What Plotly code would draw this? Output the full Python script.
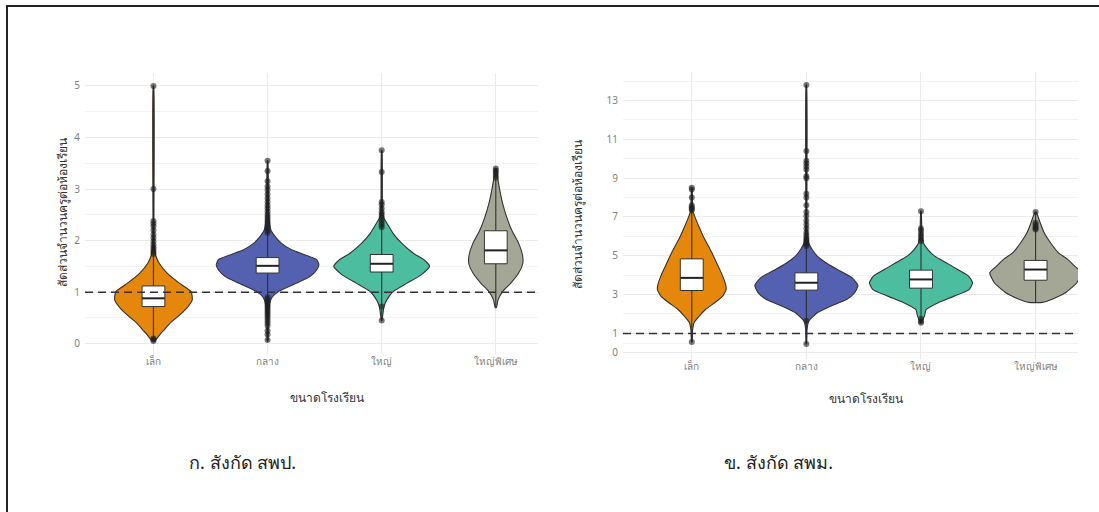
import plotly.graph_objects as go

W, H = 1099, 512

# ---------------- data ----------------
categories = ["เล็ก", "กลาง", "ใหญ่", "ใหญ่พิเศษ"]
cat_pos = [0, 1, 2, 3]
fill_colors = ["#E5870A", "#5461B0", "#4CBD9E", "#A4A795"]

y_title = "สัดส่วนจำนวนครูต่อห้องเรียน"
x_title = "ขนาดโรงเรียน"
caption_a = "ก. สังกัด สพป."
caption_b = "ข. สังกัด สพม."

# Panel A (สพป.)
a_q1 = [0.72, 1.37, 1.39, 1.55]
a_med = [0.88, 1.51, 1.55, 1.81]
a_q3 = [1.12, 1.67, 1.73, 2.19]
a_min = [0.05, 0.05, 0.45, 0.70]
a_max = [5.0, 3.55, 3.75, 3.40]

a_violin_y = [
    [0.05, 0.1, 0.2, 0.27, 0.4, 0.5, 0.66, 0.85, 1.01, 1.17, 1.37, 1.56, 1.71, 1.9, 2.4, 5.0],
    [0.05, 0.5, 0.79, 0.9, 1.01, 1.17, 1.3, 1.43, 1.53, 1.63, 1.72, 1.82, 1.95, 2.08, 2.2, 2.5, 3.55],
    [0.45, 0.72, 0.85, 1.01, 1.17, 1.34, 1.5, 1.63, 1.75, 1.95, 2.14, 2.34, 2.46, 2.8, 3.75],
    [0.70, 0.85, 1.01, 1.17, 1.37, 1.56, 1.72, 1.95, 2.2, 2.46, 2.72, 2.98, 3.24, 3.40],
]
a_violin_hw = [
    [0.005, 0.03, 0.065, 0.095, 0.146, 0.2, 0.28, 0.34, 0.33, 0.23, 0.12, 0.05, 0.02, 0.008, 0.004, 0.002],
    [0.003, 0.006, 0.02, 0.04, 0.095, 0.25, 0.37, 0.43, 0.45, 0.43, 0.33, 0.21, 0.12, 0.065, 0.03, 0.01, 0.002],
    [0.002, 0.02, 0.045, 0.1, 0.22, 0.35, 0.42, 0.37, 0.28, 0.175, 0.1, 0.045, 0.015, 0.006, 0.002],
    [0.005, 0.02, 0.06, 0.13, 0.2, 0.237, 0.234, 0.2, 0.14, 0.095, 0.06, 0.035, 0.015, 0.005],
]
a_outliers = [
    [5.0, 3.0, 2.38, 2.33, 2.28, 2.2, 2.12, 2.05, 1.98, 1.92, 1.87, 1.82, 1.78, 1.74, 0.05, 0.08, 0.1],
    [3.55, 3.35, 3.15, 3.05, 2.98, 2.9, 2.82, 2.75, 2.68, 2.62, 2.56, 2.5, 2.45, 2.4, 2.35, 2.3, 2.25, 2.2, 2.15,
     0.9, 0.86, 0.82, 0.78, 0.74, 0.7, 0.66, 0.62, 0.58, 0.54, 0.5, 0.45, 0.4, 0.35, 0.25, 0.18, 0.07],
    [3.75, 3.33, 2.75, 2.7, 2.62, 2.55, 2.5, 2.45, 2.4, 2.35, 2.3, 2.26, 0.72, 0.45],
    [3.4, 3.36, 3.32, 3.27, 3.22],
]

# Panel B (สพม.)
b_q1 = [3.21, 3.23, 3.33, 3.74]
b_med = [3.86, 3.61, 3.78, 4.29]
b_q3 = [4.84, 4.12, 4.26, 4.76]
b_min = [0.55, 0.45, 1.55, 2.6]
b_max = [8.5, 13.8, 7.3, 7.25]

b_violin_y = [
    [0.55, 1.2, 1.55, 1.89, 2.23, 2.58, 2.92, 3.26, 3.52, 3.95, 4.47, 4.98, 5.5, 6.01, 6.53, 7.04, 7.3, 8.5],
    [0.45, 1.2, 1.63, 2.06, 2.4, 2.75, 3.09, 3.47, 3.86, 4.29, 4.64, 4.98, 5.32, 5.67, 6.5, 13.8],
    [1.55, 1.63, 1.89, 2.23, 2.58, 2.92, 3.26, 3.61, 3.95, 4.29, 4.64, 4.98, 5.32, 5.67, 6.2, 7.3],
    [2.6, 2.75, 3.09, 3.61, 4.12, 4.47, 4.81, 5.15, 5.67, 6.18, 6.7, 7.04, 7.25],
]
b_violin_hw = [
    [0.002, 0.008, 0.02, 0.065, 0.12, 0.2, 0.27, 0.3, 0.295, 0.27, 0.23, 0.19, 0.145, 0.1, 0.06, 0.025, 0.01, 0.002],
    [0.002, 0.006, 0.02, 0.095, 0.21, 0.35, 0.42, 0.45, 0.4, 0.27, 0.17, 0.095, 0.05, 0.02, 0.006, 0.002],
    [0.005, 0.01, 0.03, 0.045, 0.15, 0.29, 0.42, 0.45, 0.415, 0.32, 0.22, 0.12, 0.06, 0.02, 0.008, 0.002],
    [0.06, 0.14, 0.26, 0.36, 0.4, 0.34, 0.28, 0.2, 0.13, 0.075, 0.04, 0.02, 0.005],
]
b_outliers = [
    [8.5, 8.42, 8.0, 7.6, 7.5, 7.42, 7.36, 0.55],
    [13.8, 10.4, 9.9, 9.75, 9.6, 9.45, 9.1, 9.0, 8.2, 8.0, 7.6, 7.25, 7.05, 6.8, 6.6, 6.4, 6.2, 6.05,
     5.9, 5.8, 5.7, 5.6, 5.5, 1.65, 0.45],
    [7.3, 6.4, 6.3, 6.15, 6.0, 5.85, 5.75, 1.75, 1.62, 1.55],
    [7.25, 6.7, 6.6, 6.5, 6.42, 6.35],
]

a_yticks = [0, 1, 2, 3, 4, 5]
a_yminor = [0.5, 1.5, 2.5, 3.5, 4.5]
b_yticks = [0, 1, 3, 5, 7, 9, 11, 13]
b_yminor = [0.5, 2, 4, 6, 8, 10, 12, 14]
ref_value = 1

# ---------------- figure ----------------
fig = go.Figure()
OUTLINE = "#333333"
BOX_HW = 0.1


def add_panel(xa, ya, q1, med, q3, vmin, vmax, vy, vhw, outl):
    xref = "x" if xa == 1 else "x2"
    yref = "y" if ya == 1 else "y2"
    common = dict(hoverinfo="skip", showlegend=False, xaxis=xref, yaxis=yref)
    for i, c in enumerate(cat_pos):
        ys = vy[i]
        hws = vhw[i]
        px = [c + h for h in hws] + [c - h for h in reversed(hws)]
        py = list(ys) + list(reversed(ys))
        px.append(px[0]); py.append(py[0])
        # violin
        fig.add_trace(go.Scatter(x=px, y=py, mode="lines", fill="toself",
                                 fillcolor=fill_colors[i],
                                 line=dict(color=OUTLINE, width=1.1, shape="spline", smoothing=0.5),
                                 **common))
        # range line (min to max)
        fig.add_trace(go.Scatter(x=[c, c], y=[vmin[i], vmax[i]], mode="lines",
                                 line=dict(color="rgba(40,40,40,0.85)", width=1.2), **common))
        # box (white)
        bx = [c - BOX_HW, c + BOX_HW, c + BOX_HW, c - BOX_HW, c - BOX_HW]
        by = [q1[i], q1[i], q3[i], q3[i], q1[i]]
        fig.add_trace(go.Scatter(x=bx, y=by, mode="lines", fill="toself", fillcolor="white",
                                 line=dict(color=OUTLINE, width=1), **common))
        # median line
        fig.add_trace(go.Scatter(x=[c - BOX_HW, c + BOX_HW], y=[med[i], med[i]],
                                 mode="lines", line=dict(color="#222222", width=2), **common))
        # outliers
        fig.add_trace(go.Scatter(x=[c] * len(outl[i]), y=outl[i], mode="markers",
                                 marker=dict(color="rgba(30,30,30,0.6)", size=6),
                                 cliponaxis=False, **common))
    # reference dashed line
    fig.add_shape(type="line", xref=f"{xref} domain", yref=yref, x0=0, x1=1,
                  y0=ref_value, y1=ref_value,
                  line=dict(color="#333333", width=1.5, dash="8px,5px"))


add_panel(1, 1, a_q1, a_med, a_q3, a_min, a_max, a_violin_y, a_violin_hw, a_outliers)
add_panel(2, 2, b_q1, b_med, b_q3, b_min, b_max, b_violin_y, b_violin_hw, b_outliers)

GRID = "#EBEBEB"
FONT = "Noto Sans, DejaVu Sans, sans-serif"
TICKFONT = dict(family=FONT, size=10, color="#7F7F7F")

xcommon = dict(range=[-0.6, 3.37], tickmode="array", tickvals=cat_pos, ticktext=categories,
               showgrid=True, gridcolor=GRID, gridwidth=1, zeroline=False, showline=False,
               ticks="", tickfont=TICKFONT, fixedrange=True)

fig.update_layout(
    width=W, height=H,
    margin=dict(l=0, r=0, t=0, b=0),
    paper_bgcolor="white", plot_bgcolor="white",
    showlegend=False,
    xaxis=dict(domain=[85 / W, 538 / W], anchor="y", **xcommon),
    xaxis2=dict(domain=[623 / W, 1078 / W], anchor="y2", **xcommon),
    yaxis=dict(domain=[1 - 354 / H, 1 - 73 / H], anchor="x", range=[-0.2, 5.25],
               tickmode="array", tickvals=a_yticks,
               minor=dict(tickvals=a_yminor, showgrid=True, gridcolor="#F3F3F3", gridwidth=1),
               showgrid=True, gridcolor=GRID, gridwidth=1, zeroline=False, showline=False,
               ticks="", tickfont=TICKFONT, ticklabelstandoff=4),
    yaxis2=dict(domain=[1 - 359 / H, 1 - 72 / H], anchor="x2", range=[-0.32, 14.47],
                tickmode="array", tickvals=b_yticks,
                minor=dict(tickvals=b_yminor, showgrid=True, gridcolor="#F3F3F3", gridwidth=1),
                showgrid=True, gridcolor=GRID, gridwidth=1, zeroline=False, showline=False,
                ticks="", tickfont=TICKFONT, ticklabelstandoff=4),
    font=dict(family=FONT, color="#222222"),
)

TITLEFONT = dict(family=FONT, size=12, color="#333333")
CAPFONT = dict(family=FONT, size=18, color="#222222")
ann = [
    dict(text=x_title, x=327 / W, y=1 - 397 / H, font=TITLEFONT),
    dict(text=x_title, x=866 / W, y=1 - 398 / H, font=TITLEFONT),
    dict(text=y_title, x=62 / W, y=1 - 213 / H, textangle=-90, font=TITLEFONT),
    dict(text=y_title, x=577 / W, y=1 - 215 / H, textangle=-90, font=TITLEFONT),
    dict(text=caption_a, x=242 / W, y=1 - 462 / H, font=CAPFONT),
    dict(text=caption_b, x=778 / W, y=1 - 462 / H, font=CAPFONT),
]
for a in ann:
    fig.add_annotation(xref="paper", yref="paper", showarrow=False,
                       xanchor="center", yanchor="middle", **a)

# page frame (top and left border)
fig.add_shape(type="line", xref="paper", yref="paper", x0=6 / W, x1=1, y0=1 - 6 / H, y1=1 - 6 / H,
              line=dict(color="#222222", width=2))
fig.add_shape(type="line", xref="paper", yref="paper", x0=7 / W, x1=7 / W, y0=0, y1=1 - 6 / H,
              line=dict(color="#222222", width=2))

fig.write_html("out.html", config={"displayModeBar": False},
               post_script="document.body.style.margin='0';")
